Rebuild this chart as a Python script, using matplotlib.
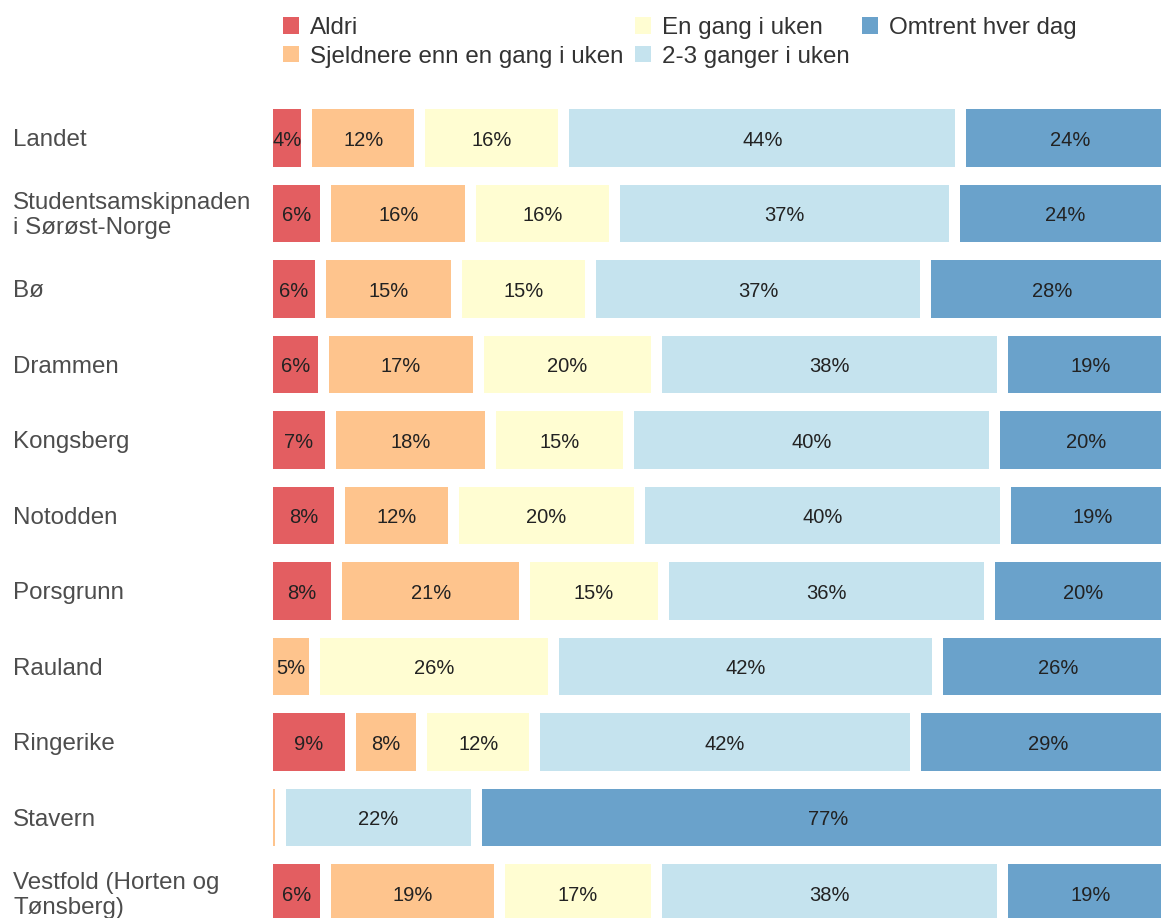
import matplotlib.pyplot as plt
import matplotlib.transforms as mtransforms
from matplotlib.patches import Patch

plt.rcParams['font.family'] = ['Liberation Sans', 'DejaVu Sans']

categories = ["Landet", "Studentsamskipnaden\ni Sørøst-Norge", "Bø", "Drammen", "Kongsberg",
              "Notodden", "Porsgrunn", "Rauland", "Ringerike", "Stavern",
              "Vestfold (Horten og\nTønsberg)"]
series = ["Aldri", "Sjeldnere enn en gang i uken", "En gang i uken",
          "2-3 ganger i uken", "Omtrent hver dag"]

aldri = [4.3, 6.4, 5.8, 6.1, 6.9, 7.9, 7.6, 0.0, 9.1, 0.0, 6.4]
sjeldnere = [12.4, 15.9, 14.9, 17.0, 17.6, 12.5, 20.6, 5.2, 7.8, 1.4, 19.0]
en_gang = [15.8, 15.8, 14.7, 19.6, 15.1, 20.4, 15.2, 26.2, 12.4, 0.0, 17.3]
to_tre = [43.5, 37.2, 36.8, 37.9, 40.1, 40.1, 35.8, 42.1, 41.7, 21.5, 37.9]
hver_dag = [24.0, 24.4, 27.7, 19.3, 20.2, 19.1, 20.4, 26.5, 29.1, 77.1, 19.4]

colors = ["#E35E61", "#FEC48D", "#FFFDD2", "#C5E3EE", "#6AA2CB"]

W, H = 1161, 918
fig = plt.figure(figsize=(W / 100, H / 100), dpi=100)

# axes placed in pixel terms of the reference
top_px = 95
ax = fig.add_axes([273 / W, 0, (W - 273) / W, (H - top_px) / H])
px_per_pct = 9.12
gap = 11 / px_per_pct
row_px = 75.5
ax.set_xlim(0, (W - 273) / px_per_pct)
ax.set_ylim((H - 138) / row_px, (top_px - 138) / row_px)
ax.axis('off')

nudge = 0.03
data = [aldri, sjeldnere, en_gang, to_tre, hver_dag]
for i, cat in enumerate(categories):
    left = 0
    for j, vals in enumerate(data):
        v = vals[i]
        if v <= 0:
            continue
        w = max(v - gap, 0.12)
        ax.barh(i, w, left=left, height=0.755, color=colors[j], linewidth=0)
        if v >= 3:
            ax.text(left + w / 2, i + nudge, f"{round(v)}%", ha='center', va='center',
                    fontsize=14.5, color='#222222')
        left += v

trans = mtransforms.blended_transform_factory(fig.transFigure, ax.transData)
for i, cat in enumerate(categories):
    ax.text(13 / W, i + nudge, cat, transform=trans, ha='left', va='center',
            fontsize=17.4, color='#4D4D4D', linespacing=1.2, clip_on=False)

handles = [Patch(facecolor=c, edgecolor='none') for c in colors]
fig.legend(handles, series, loc='upper left', bbox_to_anchor=(283 / W, 1 - 17 / H),
           ncol=3, frameon=False, fontsize=17.4, handlelength=0.66, handleheight=0.66,
           handletextpad=0.45, columnspacing=0.5, labelspacing=0.27, borderpad=0,
           borderaxespad=0, labelcolor='#333333')

fig.savefig("out.png", dpi=100)
